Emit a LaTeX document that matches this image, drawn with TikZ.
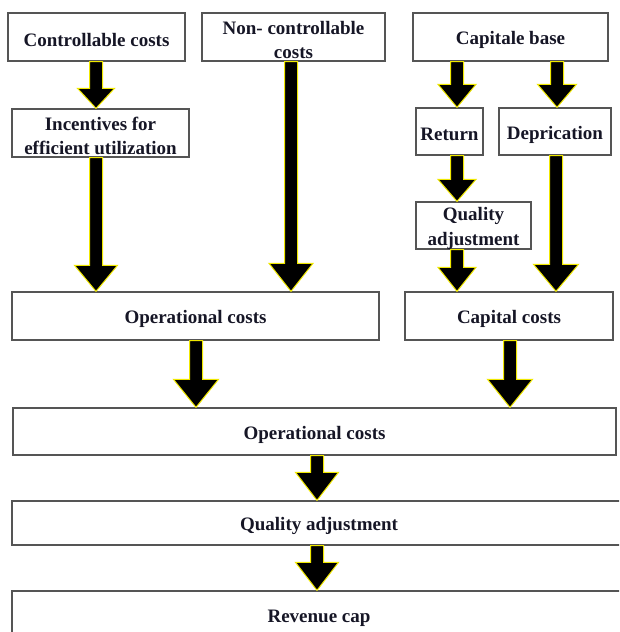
\documentclass[tikz,border=0pt]{standalone}
\usepackage{fontspec}
\setmainfont{Liberation Serif}
\usetikzlibrary{calc}
\definecolor{boxline}{RGB}{85,85,85}
\definecolor{txt}{RGB}{22,22,38}
\definecolor{ylw}{RGB}{240,232,0}
\tikzset{
  boxnode/.style={draw=boxline, line width=1.3pt, fill=white, inner sep=0pt},
  lbl/.style={inner sep=0pt, font=\fontsize{19}{24.5}\selectfont\bfseries, text=txt, align=center},
  blkarrow/.style={fill=black, draw=ylw, line width=1pt, line join=miter},
}
\newcommand\mkbox[6]{%
  \node[boxnode, minimum width={(#4-#2)*1pt}, minimum height={(#5-#3)*1pt}]
    (#1) at ({(#2+#4)/2},{(#3+#5)/2}) {};
  \node[lbl] (#1-t) at ($(#1.center)+(0,3)$) {#6};}
\newcommand\blk[5]{%
  \path[blkarrow] let \p1=(#1.south), \p2=(#2.north) in
    ({#3pt-6.5pt},\y1) -- ({#3pt+6.5pt},\y1) -- ({#3pt+6.5pt},{\y2+#5pt})
    -- ({#3pt+#4pt},{\y2+#5pt}) -- (#3pt,\y2) -- ({#3pt-#4pt},{\y2+#5pt})
    -- ({#3pt-6.5pt},{\y2+#5pt}) -- cycle;}
\begin{document}
\begin{tikzpicture}[x=1pt,y=-1pt]
\useasboundingbox (0,0) rectangle (619,632);
\clip (0,0) rectangle (619,632);
\fill[white] (0,0) rectangle (619,632);
% boxes
\mkbox{cc}{8}{13}{185}{61}{Controllable costs}
\mkbox{nc}{202}{13}{385}{61}{Non- controllable\\costs}
\mkbox{cb}{413}{13}{608}{61}{Capitale base}
\mkbox{inc}{12}{109}{189}{157}{Incentives for\\efficient utilization}
\mkbox{ret}{416}{108}{483}{155}{Return}
\mkbox{dep}{499}{108}{611}{155}{Deprication}
\mkbox{qas}{416}{202}{531}{249}{Quality\\adjustment}
\mkbox{op1}{12}{292}{379}{340}{Operational costs}
\mkbox{cap}{405}{292}{613}{340}{Capital costs}
\mkbox{op2}{13}{408}{616}{455}{Operational costs}
\mkbox{qa}{12}{501}{626}{545}{Quality adjustment}
\mkbox{rev}{12}{591}{626}{639}{Revenue cap}
% arrows
\blk{cc}{inc}{96}{18.5}{20}
\blk{inc}{op1}{96}{21.5}{26}
\blk{nc}{op1}{291}{22}{28}
\blk{cb}{ret}{457}{19}{23}
\blk{cb}{dep}{557}{19.5}{23}
\blk{ret}{qas}{457}{19}{22}
\blk{dep}{cap}{556}{22.5}{27}
\blk{qas}{cap}{457}{19}{24}
\blk{op1}{op2}{196}{22.5}{28}
\blk{cap}{op2}{510}{22.5}{28}
\blk{op2}{qa}{317}{21.5}{28}
\blk{qa}{rev}{317}{21.5}{28}
\end{tikzpicture}
\end{document}
